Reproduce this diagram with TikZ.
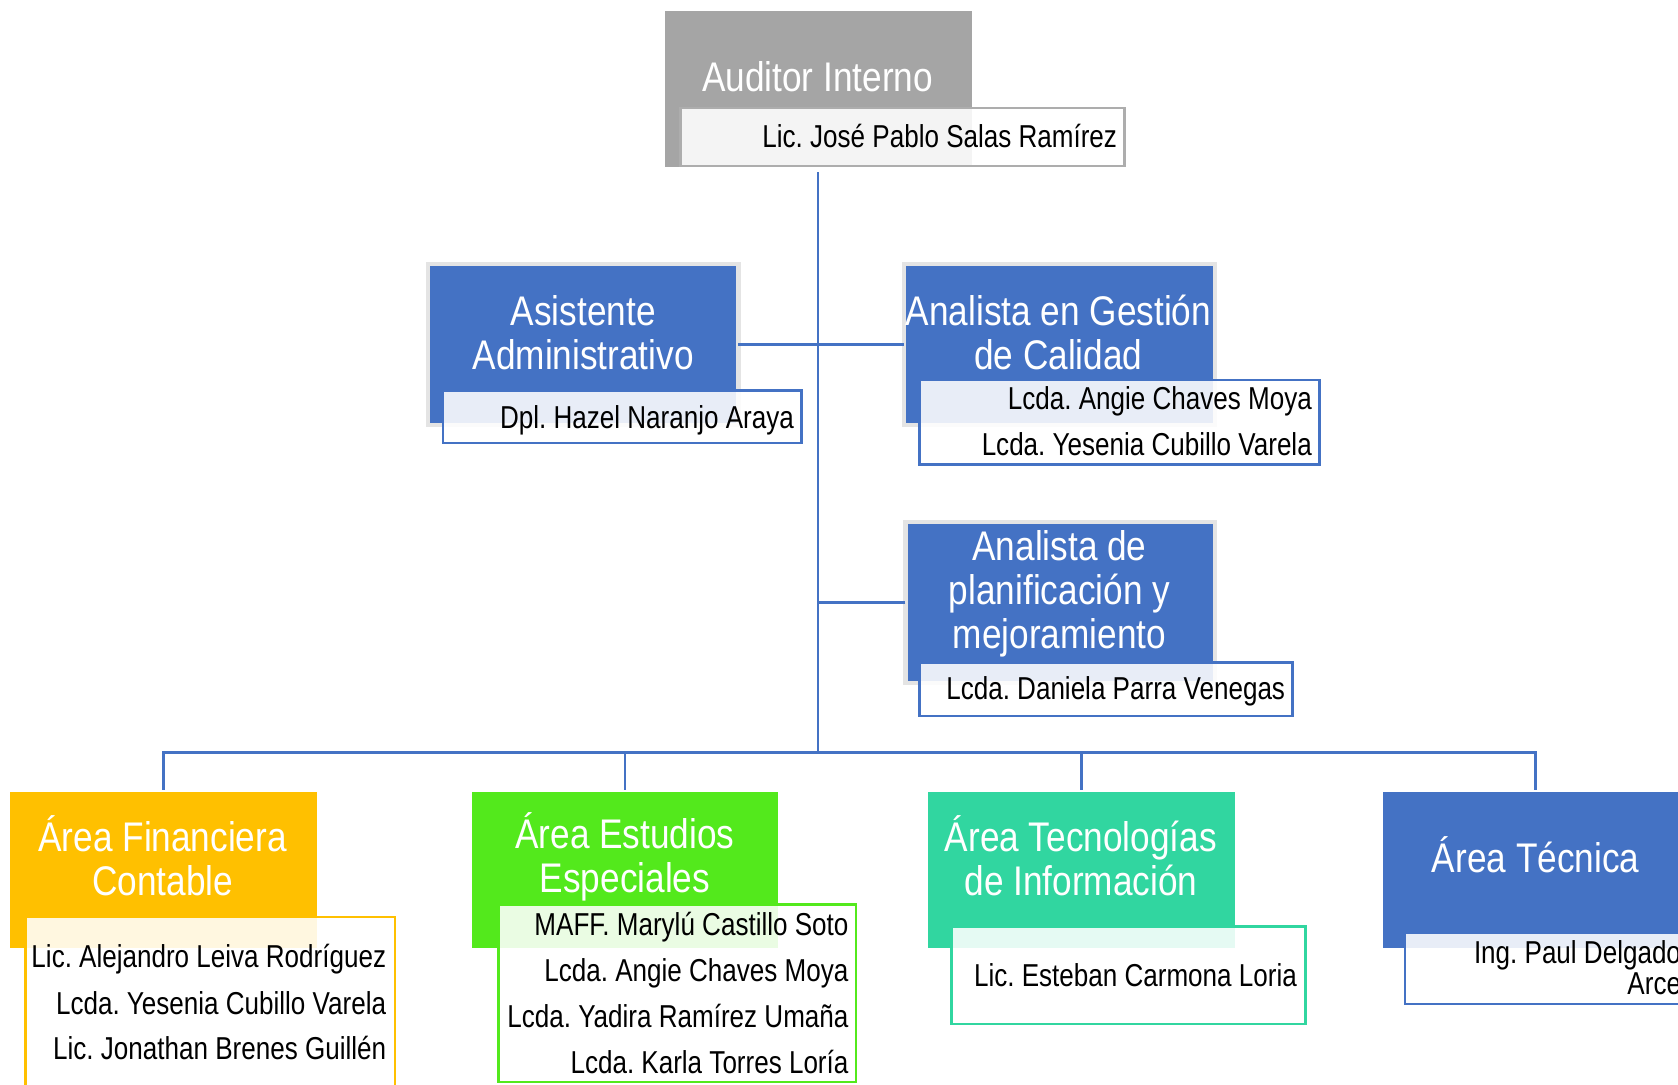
\documentclass[tikz,border=0pt]{standalone}
\usepackage{fontspec}
\setmainfont{Liberation Sans}[FakeStretch=0.85]
\newfontfamily\personfont{Liberation Sans}[FakeStretch=0.822]
\definecolor{myblue}{HTML}{4472C4}
\definecolor{mygray}{HTML}{A5A5A5}
\definecolor{nameborder}{HTML}{ADADAD}
\definecolor{framegray}{HTML}{E4E4E4}
\definecolor{myorange}{HTML}{FFC000}
\definecolor{mygreen}{HTML}{53E91C}
\definecolor{myteal}{HTML}{31D6A0}
\begin{document}
\frenchspacing
\begin{tikzpicture}[x=1pt,y=-1pt,
  rolebox/.style={inner sep=0pt, outer sep=0pt, anchor=north west},
  framedbox/.style={rolebox, draw=framegray, line width=4pt, fill=myblue},
  personbox/.style={inner sep=0pt, outer sep=0pt, anchor=north west, fill=white, fill opacity=0.88, line width=2.4pt},
  roletext/.style={text=white, font=\fontsize{38.7}{41}\selectfont\frenchspacing, align=center, inner sep=0pt},
  persontext/.style={font=\personfont\fontsize{29.6}{36}\selectfont\frenchspacing, anchor=base east, inner sep=0pt},
  conn/.style={draw=myblue, line width=2.5pt}]
\useasboundingbox (0,0) rectangle (1568,1013);
\clip (0,0) rectangle (1568,1013);

% top
\node[rolebox, fill=mygray, minimum width=287pt, minimum height=146pt] (topbox) at (621,10) {};
\node[roletext] (toptitle) at (764,72) {Auditor Interno};
\node[personbox, draw=nameborder, minimum width=415pt, minimum height=54pt] (topname) at (636,101) {};
\node[persontext] (topn1) at (1044,138) {Lic. José Pablo Salas Ramírez};

% asistente
\node[framedbox, minimum width=290pt, minimum height=150pt] (asisbox) at (400,247) {};
\node[roletext] (asistitle) at (545,311) {Asistente\\Administrativo};
\node[personbox, draw=myblue, minimum width=335pt, minimum height=49pt] (asisname) at (414,365) {};
\node[persontext] (asisn1) at (742,400) {Dpl. Hazel Naranjo Araya};

% gestion
\node[framedbox, minimum width=290pt, minimum height=150pt] (gestbox) at (845,247) {};
\node[roletext] (gesttitle) at (989,311) {Analista en Gestión\\de Calidad};
\node[personbox, draw=myblue, minimum width=374pt, minimum height=79pt] (gestname) at (859,355) {};
\node[persontext] (gestn1) at (1226,383) {Lcda. Angie Chaves Moya};
\node[persontext] (gestn2) at (1226,426) {Lcda. Yesenia Cubillo Varela};

% planificacion
\node[framedbox, minimum width=289pt, minimum height=150pt] (planbox) at (846,488) {};
\node[roletext] (plantitle) at (990,555) {Analista de\\planificación y\\mejoramiento};
\node[personbox, draw=myblue, minimum width=349pt, minimum height=50pt] (planname) at (859,619) {};
\node[persontext] (plann1) at (1201,654) {Lcda. Daniela Parra Venegas};

% bottom areas
\node[rolebox, fill=myorange, minimum width=287pt, minimum height=146pt] (finbox) at (9,740) {};
\node[roletext] (fintitle) at (152,799.5) {Área Financiera\\Contable};
\node[personbox, draw=myorange, minimum width=345pt, minimum height=173pt] (finname) at (24,857) {};
\node[persontext] (finn1) at (361,904) {Lic. Alejandro Leiva Rodríguez};
\node[persontext] (finn2) at (361,948) {Lcda. Yesenia Cubillo Varela};
\node[persontext] (finn3) at (361,990) {Lic. Jonathan Brenes Guillén};

\node[rolebox, fill=mygreen, minimum width=286pt, minimum height=146pt] (estbox) at (441,740) {};
\node[roletext] (esttitle) at (584,800.5) {Área Estudios\\Especiales};
\node[personbox, draw=mygreen, minimum width=334pt, minimum height=166pt] (estname) at (466,845) {};
\node[persontext] (estn1) at (793,874) {MAFF. Marylú Castillo Soto};
\node[persontext] (estn2) at (793,917) {Lcda. Angie Chaves Moya};
\node[persontext] (estn3) at (793,960) {Lcda. Yadira Ramírez Umaña};
\node[persontext] (estn4) at (793,1003) {Lcda. Karla Torres Loría};

\node[rolebox, fill=myteal, minimum width=287pt, minimum height=146pt] (tibox) at (867,740) {};
\node[roletext] (tititle) at (1010,799.5) {Área Tecnologías\\de Información};
\node[personbox, draw=myteal, minimum width=331pt, minimum height=91pt] (tiname) at (889,866) {};
\node[persontext] (tin1) at (1212,922) {Lic. Esteban Carmona Loria};

\node[rolebox, fill=myblue, minimum width=286pt, minimum height=146pt] (tecbox) at (1292,740) {};
\node[roletext] (tectitle) at (1435,799) {Área Técnica};
\node[personbox, draw=myblue, minimum width=300pt, minimum height=66pt] (tecname) at (1313,872) {};
\node[persontext] (tecn1) at (1571,900) {Ing. Paul Delgado};
\node[persontext] (tecn2) at (1571,929) {Arce};

% connectors
\coordinate (hub) at (764.5,703);
\draw[conn] ([yshift=-5pt]topbox.south) -- (hub);
\draw[conn] (asisbox.east) -- (gestbox.west);
\draw[conn] (planbox.west) -- (planbox.west -| hub);
\draw[conn] ([yshift=2pt]finbox.north) |- (hub) -| ([yshift=2pt]tecbox.north);
\draw[conn] ([yshift=2pt]estbox.north) -- (estbox.north |- hub);
\draw[conn] ([yshift=2pt]tibox.north) -- (tibox.north |- hub);
\end{tikzpicture}
\end{document}
